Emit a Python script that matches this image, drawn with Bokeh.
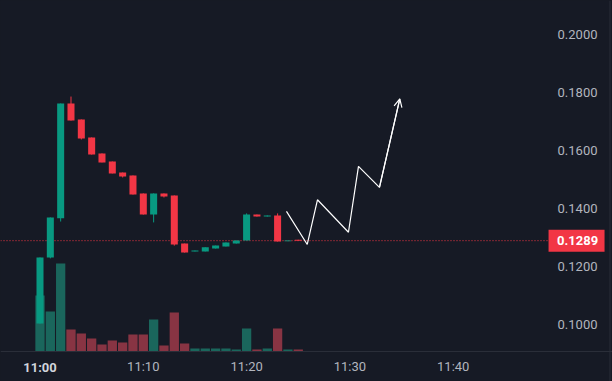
from bokeh.plotting import figure
from bokeh.models import (Range1d, FixedTicker, PrintfTickFormatter, Label,
                          Arrow, OpenHead, ColumnDataSource)
from bokeh.embed import file_html
from bokeh.resources import INLINE

BG = "#161A25"
UP = "#089981"
DOWN = "#F23645"
UP_VOL = "#1A665C"
DOWN_VOL = "#883443"
TXT = "#B2B5BE"
EDGE = "#2A2E39"

# ---- data (minutes after 11:00) ----
minutes = list(range(26))
opens = [0.1003, 0.1231, 0.1366, 0.1762, 0.1707, 0.1645, 0.1590, 0.1562, 0.1524, 0.1514,
         0.1452, 0.1379, 0.1452, 0.1445, 0.1279, 0.1252, 0.1252, 0.1262, 0.1269, 0.1279,
         0.1290, 0.1379, 0.1372, 0.1376, 0.1287, 0.1292]
closes = [0.1231, 0.1369, 0.1762, 0.1703, 0.1641, 0.1586, 0.1559, 0.1521, 0.1510, 0.1448,
          0.1379, 0.1452, 0.1441, 0.1276, 0.1248, 0.1255, 0.1266, 0.1272, 0.1283, 0.1290,
          0.1379, 0.1372, 0.1376, 0.1286, 0.1290, 0.1289]
highs = [0.1231, 0.1369, 0.1762, 0.1786, 0.1707, 0.1645, 0.1590, 0.1562, 0.1524, 0.1514,
         0.1452, 0.1452, 0.1452, 0.1445, 0.1279, 0.1255, 0.1266, 0.1272, 0.1283, 0.1290,
         0.1383, 0.1379, 0.1376, 0.1383, 0.1290, 0.1292]
lows = [0.1003, 0.1228, 0.1355, 0.1703, 0.1638, 0.1586, 0.1559, 0.1521, 0.1507, 0.1448,
        0.1379, 0.1352, 0.1438, 0.1272, 0.1248, 0.1252, 0.1252, 0.1262, 0.1269, 0.1279,
        0.1290, 0.1372, 0.1372, 0.1286, 0.1287, 0.1289]
volumes = [56, 40, 88, 22, 18, 13, 7, 11, 9, 17, 17, 32, 6, 39, 8, 3, 3, 3, 3, 2,
           23, 2, 3, 23, 2, 2]
last_price = 0.1289
price_ticks = [0.10, 0.12, 0.14, 0.16, 0.18, 0.20]
time_ticks = [0, 10, 20, 30, 40]
time_labels = ["11:00", "11:10", "11:20", "11:30", "11:40"]
drawing_t = [23.86, 25.87, 26.86, 29.86, 30.83, 32.86, 34.83]
drawing_p = [0.1390, 0.1276, 0.1430, 0.1318, 0.1545, 0.1473, 0.1778]

# layout constants (axis positions in data units)
X0, X1 = -3.824, 55.42          # visible time span
Y0, Y1 = 0.08034, 0.21172       # visible price span
PRICE_AXIS_T = 49.23            # time where the price scale begins
TIME_AXIS_P = 0.09069           # price where the time scale sits
RIGHT_EDGE_T = 55.18            # thin pane border at the right

up = [c >= o for o, c in zip(opens, closes)]
src = ColumnDataSource(dict(
    t=minutes, o=opens, c=closes, h=highs, l=lows, vol=volumes,
    top=[max(o, c) for o, c in zip(opens, closes)],
    bottom=[min(o, c) for o, c in zip(opens, closes)],
    color=[UP if u else DOWN for u in up],
    vcolor=[UP_VOL if u else DOWN_VOL for u in up],
))

p = figure(width=612, height=381,
           x_range=Range1d(X0, X1), y_range=Range1d(Y0, Y1),
           y_axis_location="right", output_backend="svg", toolbar_location=None,
           background_fill_color=BG, border_fill_color=BG, outline_line_color=None,
           min_border_left=0, min_border_top=0, min_border_right=0, min_border_bottom=0)
p.title.visible = False
p.extra_y_ranges = {"vol": Range1d(-30, 351)}
p.grid.visible = False

# pane border on the right
p.segment(x0=[RIGHT_EDGE_T], y0=[Y0], x1=[RIGHT_EDGE_T], y1=[Y1], line_color=EDGE, line_width=1)

p.vbar(x="t", top="vol", bottom=0, width=0.9, fill_color="vcolor", line_color=None,
       y_range_name="vol", source=src)

# last-price dotted line
p.segment(x0=[X0], y0=[last_price], x1=[PRICE_AXIS_T], y1=[last_price],
          line_color=DOWN, line_dash="1 2", line_width=1)

p.segment(x0="t", y0="l", x1="t", y1="h", line_color="color", line_width=1, source=src)
p.vbar(x="t", top="top", bottom="bottom", width=0.68, fill_color="color",
       line_color=None, source=src)

p.line(drawing_t, drawing_p, line_color="white", line_width=1.2)
p.add_layout(Arrow(end=OpenHead(size=8, line_color="white", line_width=1.2),
                   x_start=drawing_t[-2], y_start=drawing_p[-2],
                   x_end=drawing_t[-1], y_end=drawing_p[-1],
                   line_color="white", line_width=1.2))

# last-price tag on the price scale
p.rect(x=[51.94], y=[last_price], width=56, height=22, width_units="screen",
       height_units="screen", fill_color=DOWN, line_color=None)

# axes (drawn inside the frame at fixed locations)
xa = p.xaxis[0]
xa.fixed_location = TIME_AXIS_P
xa.ticker = FixedTicker(ticks=time_ticks[1:])
xa.major_label_overrides = {t: l for t, l in zip(time_ticks[1:], time_labels[1:])}
xa.axis_line_color = EDGE
xa.major_tick_line_color = None
xa.major_tick_out = 0
xa.major_tick_in = 0
xa.minor_tick_line_color = None
xa.major_label_text_color = TXT
xa.major_label_text_font = "Roboto"
xa.major_label_text_font_size = "13px"
xa.major_label_standoff = 8

ya = p.yaxis[0]
ya.fixed_location = PRICE_AXIS_T
ya.ticker = FixedTicker(ticks=price_ticks)
ya.formatter = PrintfTickFormatter(format="%.4f")
ya.axis_line_color = None
ya.major_tick_line_color = None
ya.major_tick_out = 0
ya.major_tick_in = 0
ya.minor_tick_line_color = None
ya.major_label_text_color = TXT
ya.major_label_text_font = "Roboto"
ya.major_label_text_font_size = "13px"
ya.major_label_standoff = 9

p.add_layout(Label(x=time_ticks[0], y=0.08517, text=time_labels[0], text_align="center",
                   text_baseline="middle", text_font="Roboto", text_font_style="bold",
                   text_font_size="13px", text_color="#D1D4DC"))

p.add_layout(Label(x=50.05, y=last_price, text="%.4f" % last_price, text_align="left",
                   text_baseline="middle", text_font="Roboto", text_font_style="bold",
                   text_font_size="13px", text_color="white"))

html = file_html(p, INLINE, title="chart")
html = html.replace("</head>", "<style>body{background:#161A25;}</style></head>", 1)
open("out.html", "w").write(html)
